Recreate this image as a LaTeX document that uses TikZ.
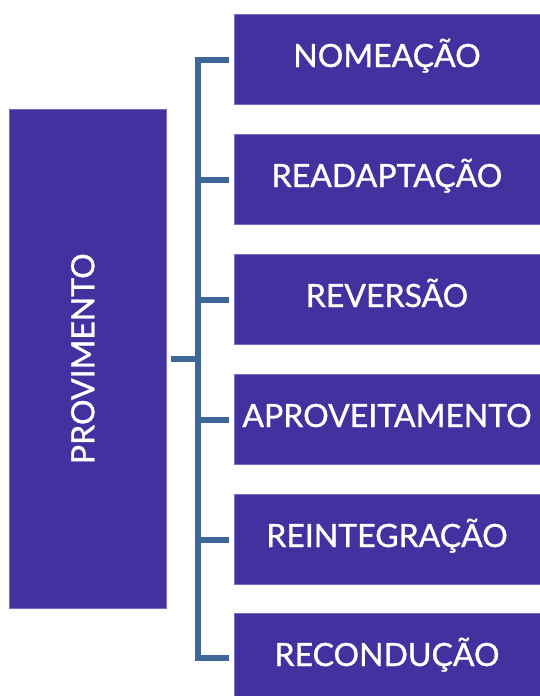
\documentclass[tikz,border=0pt]{standalone}
\usepackage{fontspec}
\setmainfont{Lato}[FakeBold=1]
\definecolor{boxfill}{RGB}{66,50,160}
\definecolor{boxedge}{RGB}{120,108,196}
\definecolor{conncol}{RGB}{62,102,150}
\begin{document}
\begin{tikzpicture}[x=1pt,y=1pt,
  pbox/.style={draw=boxedge,line width=0.7pt,fill=boxfill,text=white,
    font=\fontsize{32}{34}\selectfont,inner sep=0pt,
    text height=22pt,text depth=6pt},
  conn/.style={draw=conncol,line width=6pt,line cap=butt,line join=miter}]
\useasboundingbox (0,0) rectangle (539,-696);
\node[pbox,rotate=90,minimum width=498.5pt,minimum height=156.5pt,text depth=9pt] (prov) at (87.75,-358.75) {PROVIMENTO};
\node[pbox,minimum width=306pt,minimum height=90pt] (b1) at (387,-59) {NOMEAÇÃO};
\node[pbox,minimum width=306pt,minimum height=90pt] (b2) at (387,-179) {READAPTAÇÃO};
\node[pbox,minimum width=306pt,minimum height=90pt] (b3) at (387,-299) {REVERSÃO};
\node[pbox,minimum width=306pt,minimum height=90pt] (b4) at (387,-419) {APROVEITAMENTO};
\node[pbox,minimum width=306pt,minimum height=90pt] (b5) at (387,-539) {REINTEGRAÇÃO};
\node[pbox,minimum width=306pt,minimum height=90pt] (b6) at (387,-658) {RECONDUÇÃO};
\draw[conn] ([xshift=-5pt,yshift=-1pt]b1.west) -- ++(-31,0) coordinate (bt) |- ([xshift=-5pt]b6.west);
\foreach \b in {b2,b3,b4,b5}{
  \draw[conn] ([xshift=-5pt,yshift=-1pt]\b.west) -- ++(-34,0);
}
\draw[conn] ([xshift=5pt]prov.south) -- ++(29,0);
\end{tikzpicture}
\end{document}
